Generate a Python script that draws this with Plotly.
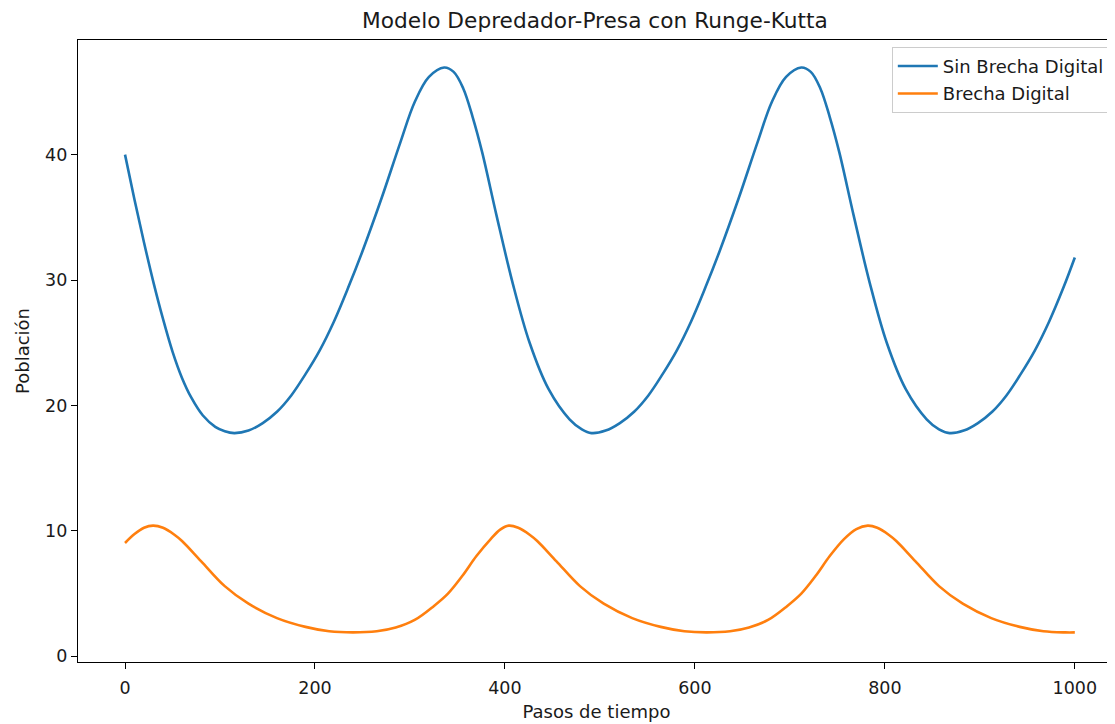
import plotly.graph_objects as go

# ---- data ----
sin_brecha_x = [0, 10, 20, 30, 40, 50, 60, 70, 82, 95, 105, 115,
                130, 145, 160, 175, 190, 205, 220, 235, 250, 270, 290, 305, 320, 336,
                346, 356, 366, 376, 391, 408, 426, 446, 468, 481, 491,
                506, 521, 536, 551, 566, 581, 596, 611, 626, 646, 666, 681, 696, 712,
                722, 732, 742, 752, 767, 784, 802, 822, 844, 857, 868,
                883, 898, 913, 928, 943, 958, 973, 988, 1000]
sin_brecha_y = [40.0, 36.4, 33.0, 29.8, 26.9, 24.3, 22.2, 20.6, 19.2, 18.3, 17.95, 17.8,
                18.0, 18.6, 19.5, 20.8, 22.5, 24.4, 26.7, 29.4, 32.3, 36.5, 41.0, 44.2, 46.2, 46.95,
                46.6, 45.3, 43.0, 40.2, 35.2, 29.8, 25.0, 21.3, 18.9, 18.1, 17.8,
                18.0, 18.6, 19.5, 20.8, 22.5, 24.4, 26.7, 29.4, 32.3, 36.5, 41.0, 44.2, 46.2, 46.95,
                46.6, 45.3, 43.0, 40.2, 35.2, 29.8, 25.0, 21.3, 18.9, 18.1, 17.8,
                18.0, 18.6, 19.5, 20.8, 22.5, 24.4, 26.7, 29.4, 31.8]

brecha_x = [0, 10, 20, 29.5, 40, 52, 60, 80, 105, 130, 160, 190, 215, 240,
            265, 285, 305, 325, 340, 355, 370, 385, 395, 404,
            414, 426, 434, 454, 479, 504, 534, 564, 589, 612,
            637, 657, 677, 697, 712, 727, 742, 757, 770, 782,
            792, 804, 812, 832, 857, 882, 912, 942, 967, 990, 1000]
brecha_y = [9.04, 9.75, 10.25, 10.42, 10.25, 9.7, 9.2, 7.6, 5.6, 4.2, 3.05, 2.35, 2.0, 1.91,
            2.0, 2.3, 2.9, 4.0, 5.0, 6.4, 8.0, 9.35, 10.1, 10.42,
            10.25, 9.7, 9.2, 7.6, 5.6, 4.2, 3.05, 2.35, 2.0, 1.91,
            2.0, 2.3, 2.9, 4.0, 5.0, 6.4, 8.0, 9.35, 10.15, 10.42,
            10.25, 9.7, 9.2, 7.6, 5.6, 4.2, 3.05, 2.35, 2.0, 1.91, 1.91]

x_ticks = [0, 200, 400, 600, 800, 1000]
y_ticks = [0, 10, 20, 30, 40]

title_text = "Modelo Depredador-Presa con Runge-Kutta"
x_label = "Pasos de tiempo"
y_label = "Población"
series_names = ["Sin Brecha Digital", "Brecha Digital"]
colors = ["#1f77b4", "#ff7f0e"]

FONT = "DejaVu Sans"
TXT = "#1a1a1a"

# The page body has an 8px margin, so the figure is sized/offset to compensate.
FIG_W, FIG_H = 1107, 716

fig = go.Figure()
fig.add_trace(go.Scatter(x=sin_brecha_x, y=sin_brecha_y, mode="lines", name=series_names[0],
                         line=dict(color=colors[0], width=2.6, shape="spline", smoothing=1.0),
                         legendgroup="a"))
fig.add_trace(go.Scatter(x=brecha_x, y=brecha_y, mode="lines", name=series_names[1],
                         line=dict(color=colors[1], width=2.6, shape="spline", smoothing=1.0),
                         legendgroup="b"))

axis_common = dict(
    showgrid=False, zeroline=False, showline=True, linecolor="black", linewidth=1.4,
    ticks="outside", ticklen=6, tickwidth=1.4, tickcolor="black",
    tickfont=dict(family=FONT, size=17.5, color=TXT),
)

fig.update_layout(
    width=FIG_W, height=FIG_H,
    margin=dict(l=70, r=0, t=32, b=62, autoexpand=False),
    paper_bgcolor="white", plot_bgcolor="white",
    title=dict(text=title_text, x=587 / FIG_W, xref="container", xanchor="center",
               y=1 - 12 / FIG_H, yref="container", yanchor="middle",
               font=dict(family=FONT, size=21.7, color=TXT)),
    xaxis=dict(range=[-49.5, 1042.3], tickvals=x_ticks, mirror=True,
               title=dict(text=x_label, font=dict(family=FONT, size=18, color=TXT), standoff=8),
               ticklabelstandoff=4, **axis_common),
    yaxis=dict(range=[-0.45, 49.14], tickvals=y_ticks, mirror=False,
               title=dict(text=y_label, font=dict(family=FONT, size=18, color=TXT), standoff=10),
               ticklabelstandoff=0, **axis_common),
    legend=dict(x=0.995, y=0.989, xanchor="right", yanchor="top",
                bgcolor="rgba(255,255,255,0.8)", bordercolor="#cccccc", borderwidth=1,
                font=dict(family=FONT, size=18, color=TXT), itemwidth=40,
                traceorder="grouped", tracegroupgap=1),
    showlegend=True,
)

fig.write_html("out.html")
